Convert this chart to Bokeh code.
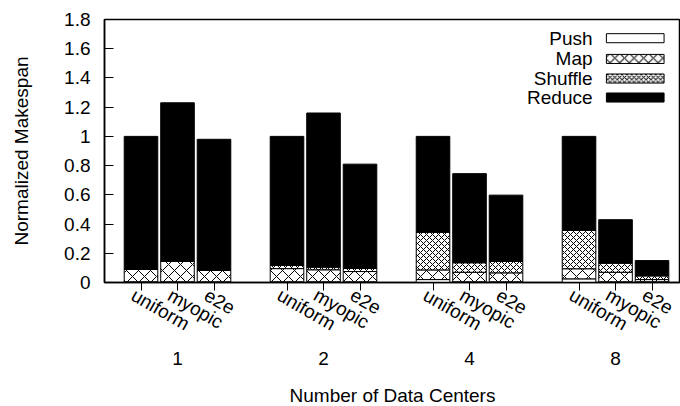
import math
from bokeh.plotting import figure
from bokeh.models import (FixedTicker, LinearAxis, Range1d, Label, BoxAnnotation, ColumnDataSource)
from bokeh.embed import file_html
from bokeh.resources import INLINE
from bokeh.transform import stack

groups = ["1", "2", "4", "8"]
schemes = ["uniform", "myopic", "e2e"]
series = ["Push", "Map", "Shuffle", "Reduce"]

# bar order: for each group (1, 2, 4, 8): uniform, myopic, e2e
push = [0.005, 0.005, 0.005,
        0.005, 0.005, 0.005,
        0.020, 0.005, 0.005,
        0.025, 0.005, 0.005]
map_phase = [0.085, 0.140, 0.078,
             0.090, 0.082, 0.070,
             0.066, 0.065, 0.061,
             0.069, 0.065, 0.015]
shuffle = [0.000, 0.000, 0.000,
           0.022, 0.018, 0.021,
           0.258, 0.065, 0.078,
           0.262, 0.062, 0.025]
reduce_phase = [0.910, 1.085, 0.897,
                0.883, 1.055, 0.714,
                0.656, 0.610, 0.454,
                0.644, 0.298, 0.105]

y_ticks = [0, 0.2, 0.4, 0.6, 0.8, 1.0, 1.2, 1.4, 1.6, 1.8]
y_tick_labels = ["0", "0.2", "0.4", "0.6", "0.8", "1", "1.2", "1.4", "1.6", "1.8"]

FONT = "Liberation Sans"
FS = "19px"

nb = len(schemes)
xpos = [g * (nb + 1) + b for g in range(len(groups)) for b in range(nb)]
group_centers = [g * (nb + 1) + (nb - 1) / 2 for g in range(len(groups))]
label_shift = 0.22  # rotated labels start slightly left of their tick

src = ColumnDataSource(dict(x=xpos, push=push, map=map_phase, shuffle=shuffle, reduce=reduce_phase,
                            scheme=[schemes[b] for g in range(len(groups)) for b in range(nb)]))

p = figure(frame_width=576, frame_height=263, x_range=Range1d(-1, 14.78), y_range=Range1d(0, 1.8),
           output_backend="svg", toolbar_location=None,
           min_border_left=104, min_border_right=0, min_border_top=19, min_border_bottom=124)
p.grid.visible = False
p.outline_line_color = "black"
p.outline_line_width = 1.5
p.background_fill_color = "white"
p.border_fill_color = "white"

cols = ["push", "map", "shuffle", "reduce"]
fills = ["white", "white", "white", "black"]
hatches = [None, "x", "x", None]
hscales = [12, 12, 6, 12]
for i, c in enumerate(cols):
    kw = dict(x="x", width=0.92, source=src, fill_color=fills[i], line_color="black", line_width=1)
    kw["bottom"] = stack(*cols[:i]) if i > 0 else 0
    kw["top"] = stack(*cols[:i + 1])
    if hatches[i]:
        kw.update(hatch_pattern=hatches[i], hatch_scale=hscales[i], hatch_color="black", hatch_weight=1)
    p.vbar(**kw)

# y axis
ya = p.yaxis[0]
ya.ticker = FixedTicker(ticks=y_ticks)
ya.major_label_overrides = {t: l for t, l in zip(y_ticks, y_tick_labels)}
ya.major_tick_in = 9
ya.major_tick_out = 0
ya.minor_tick_line_color = None
ya.major_label_standoff = 14
ya.axis_line_width = 1.5
ya.major_tick_line_width = 1
ya.axis_label = "Normalized Makespan"
ya.axis_label_standoff = 29
ya.axis_label_text_font_style = "normal"

# x axis: ticks only
xa = p.xaxis[0]
xa.ticker = FixedTicker(ticks=xpos)
xa.major_label_overrides = {xv: "" for xv in xpos}
xa.major_label_text_font_size = "0px"
xa.major_label_standoff = 0
xa.major_tick_in = 0
xa.major_tick_out = 8
xa.minor_tick_line_color = None
xa.axis_line_width = 1.5

# scheme labels (rotated)
label_ticks = [xv - label_shift for xv in xpos]
la = LinearAxis(ticker=FixedTicker(ticks=label_ticks),
                major_label_overrides={lt: schemes[i % nb] for i, lt in enumerate(label_ticks)},
                major_label_orientation=-math.pi / 6,
                major_tick_in=0, major_tick_out=0, minor_tick_line_color=None,
                axis_line_color=None, major_label_standoff=3)
p.add_layout(la, "below")

# group labels + title
ga = LinearAxis(ticker=FixedTicker(ticks=group_centers),
                major_label_overrides={gc: groups[i] for i, gc in enumerate(group_centers)},
                major_tick_in=0, major_tick_out=0, minor_tick_line_color=None,
                axis_line_color=None, major_label_standoff=5,
                axis_label="Number of Data Centers", axis_label_standoff=17,
                axis_label_text_font_style="normal")
p.add_layout(ga, "below")

for ax in [ya, la, ga]:
    ax.major_label_text_font = FONT
    ax.major_label_text_font_size = FS
    ax.major_label_text_color = "black"
    ax.axis_label_text_font = FONT
    ax.axis_label_text_font_size = FS
    ax.axis_label_text_color = "black"

# legend (label on the left, key on the right as in the reference)
leg_y = [1.672, 1.530, 1.396, 1.266]
key_h = 0.062
for i, name in enumerate(series):
    p.add_layout(Label(x=12.37, y=leg_y[i], text=name, text_align="right", text_baseline="middle",
                       text_font=FONT, text_font_size=FS, text_color="black"))
    bkw = dict(left=12.75, right=14.33, bottom=leg_y[i] - key_h / 2, top=leg_y[i] + key_h / 2,
               fill_color=fills[i], fill_alpha=1, line_color="black", line_width=1, line_alpha=1)
    if hatches[i]:
        bkw.update(hatch_pattern=hatches[i], hatch_scale=hscales[i] * 0.8, hatch_color="black", hatch_weight=1, hatch_alpha=1)
    p.add_layout(BoxAnnotation(**bkw))

open("out.html", "w").write(file_html(p, INLINE))
